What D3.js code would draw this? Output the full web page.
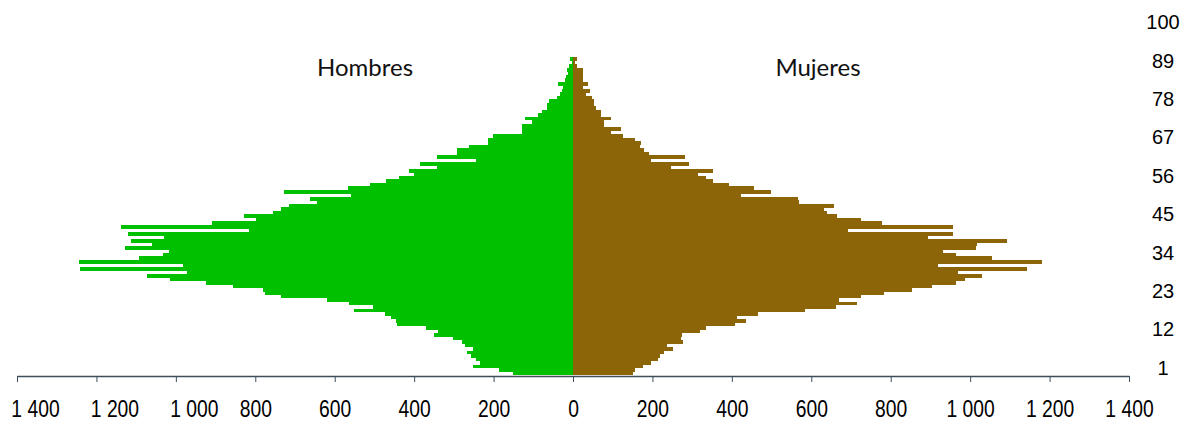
<!DOCTYPE html>
<html>
<head>
<meta charset="utf-8">
<script src="https://cdn.jsdelivr.net/npm/d3@7"></script>
<style>
  html, body { margin: 0; padding: 0; background: #fff; }
  svg { display: block; }
</style>
</head>
<body>
<svg id="chart" width="1189" height="422"></svg>
<script>
// Population by single year of age (0 .. 90)
const men = [
  152, 186, 253, 234, 244, 256, 268, 253, 272, 280,
  303, 349, 339, 370, 443, 446, 458, 474, 551, 503,
  563, 620, 736, 776, 780, 856, 924, 1015, 1072, 973,
  1242, 982, 1244, 1093, 1033, 1017, 1128, 1061, 1112, 1029,
  1120, 816, 1137, 908, 797, 828, 755, 736, 714, 644,
  662, 560, 728, 567, 510, 470, 438, 400, 413, 342,
  385, 243, 342, 293, 293, 262, 213, 213, 201, 128,
  129, 128, 104, 121, 89, 79, 66, 66, 60, 41,
  33, 27, 24, 37, 21, 18, 12, 16, 10, 3,
  8
];
const women = [
  150, 155, 176, 197, 213, 220, 228, 252, 236, 276,
  271, 274, 321, 334, 408, 436, 413, 465, 584, 662,
  714, 670, 725, 782, 854, 904, 964, 986, 1031, 970,
  1144, 919, 1180, 1056, 964, 931, 1016, 1018, 1094, 895,
  958, 692, 958, 778, 725, 665, 640, 633, 656, 568,
  566, 422, 498, 456, 393, 352, 336, 316, 352, 247,
  292, 196, 281, 191, 178, 168, 172, 157, 125, 96,
  120, 78, 78, 96, 71, 71, 57, 52, 52, 48,
  33, 44, 26, 37, 24, 24, 24, 24, 10, 4,
  10
];
const ageDomainMax = 100;
const ageTickLabels = [1, 12, 23, 34, 45, 56, 67, 78, 89, 100];
const popTicks = [0, 200, 400, 600, 800, 1000, 1200, 1400];
const sideLabels = ["Hombres", "Mujeres"];

const ages = men.map((_, i) => i);

const svg = d3.select("#chart");
const x0 = 573;
const xL = d3.scaleLinear().domain([0, 1400]).range([x0, 17]);
const xR = d3.scaleLinear().domain([0, 1400]).range([x0, 1129]);
const y = d3.scaleBand()
  .domain(d3.range(0, ageDomainMax + 1))
  .range([375, 22.4])
  .padding(0);

const green = "#00c000";
const brown = "#8b6508";

// men bars
svg.append("g").attr("shape-rendering", "crispEdges").selectAll("rect")
  .data(ages)
  .join("rect")
  .attr("x", a => xL(men[a]))
  .attr("y", a => y(a))
  .attr("width", a => x0 - xL(men[a]))
  .attr("height", y.bandwidth() + 0.3)
  .attr("fill", green);

// women bars
svg.append("g").attr("shape-rendering", "crispEdges").selectAll("rect")
  .data(ages)
  .join("rect")
  .attr("x", x0)
  .attr("y", a => y(a))
  .attr("width", a => xR(women[a]) - x0)
  .attr("height", y.bandwidth() + 0.3)
  .attr("fill", brown);

// x axes
const fmt = v => d3.format(",")(v).replace(/,/g, " ");
const axisColor = "#3e4e5c";
const axisY = 376;

function styleAxis(g, leftSide) {
  g.select(".domain").attr("stroke", axisColor).attr("stroke-width", 1.3);
  g.selectAll(".tick line").attr("stroke", axisColor).attr("stroke-width", 1);
  g.selectAll(".tick text")
    .attr("fill", "#000")
    .attr("font-family", "Liberation Sans, Arial, sans-serif")
    .attr("font-size", 23)
    .attr("y", 0)
    .attr("dy", 0)
    .attr("transform", d => {
      const dx = (leftSide && d >= 1000) ? 18 : 0;
      return `translate(${dx},41) scale(0.84,1)`;
    });
}

const gL = svg.append("g")
  .attr("transform", `translate(0,${axisY})`)
  .call(d3.axisBottom(xL).tickValues(popTicks).tickSize(6).tickSizeOuter(0).tickFormat(fmt));
styleAxis(gL, true);

const gR = svg.append("g")
  .attr("transform", `translate(0,${axisY})`)
  .call(d3.axisBottom(xR).tickValues(popTicks.slice(1)).tickSize(6).tickSizeOuter(0).tickFormat(fmt));
styleAxis(gR, false);

// age labels (right)
svg.append("g").selectAll("text")
  .data(ageTickLabels)
  .join("text")
  .attr("x", 1163)
  .attr("y", a => y(a) + y.bandwidth() / 2 + 5)
  .attr("text-anchor", "middle")
  .attr("font-family", "Liberation Sans, Arial, sans-serif")
  .attr("font-size", 20)
  .attr("fill", "#000")
  .text(a => a);

// side labels
svg.append("g").selectAll("text")
  .data(sideLabels)
  .join("text")
  .attr("x", (d, i) => i === 0 ? 365 : 818)
  .attr("y", 76)
  .attr("text-anchor", "middle")
  .attr("font-family", "Lato, 'Open Sans', sans-serif")
  .attr("font-size", 24)
  .attr("fill", "#111")
  .text(d => d);
</script>
</body>
</html>
